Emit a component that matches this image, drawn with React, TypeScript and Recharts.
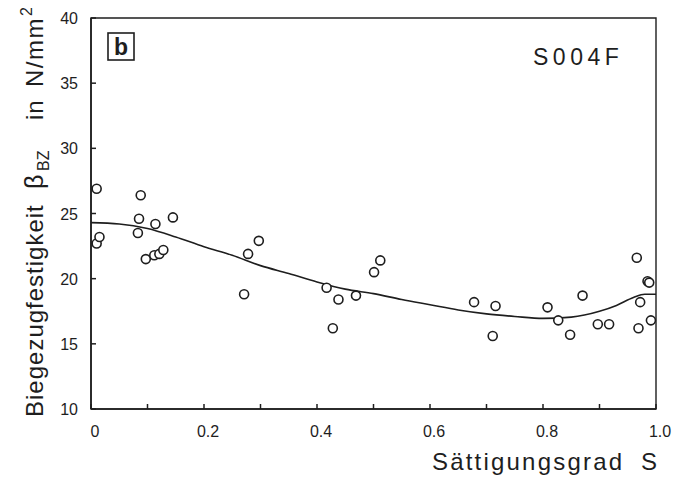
import React from 'react'
import {
  ComposedChart,
  Scatter,
  Line,
  XAxis,
  YAxis,
  ReferenceArea,
  Customized,
} from 'recharts'

// measured points (Sättigungsgrad S, β_BZ in N/mm²)
const sVals = [
  0.01, 0.01, 0.015, 0.083, 0.085, 0.088, 0.097, 0.112, 0.114, 0.121, 0.128,
  0.145, 0.271, 0.278, 0.297, 0.417, 0.428, 0.438, 0.469, 0.501, 0.512, 0.678,
  0.711, 0.716, 0.808, 0.827, 0.848, 0.87, 0.897, 0.917, 0.966, 0.969, 0.972,
  0.985, 0.988, 0.991,
]
const bzVals = [
  26.9, 22.7, 23.2, 23.5, 24.6, 26.4, 21.5, 21.8, 24.2, 21.9, 22.2, 24.7, 18.8,
  21.9, 22.9, 19.3, 16.2, 18.4, 18.7, 20.5, 21.4, 18.2, 15.6, 17.9, 17.8, 16.8,
  15.7, 18.7, 16.5, 16.5, 21.6, 16.2, 18.2, 19.8, 19.7, 16.8,
]

// fitted curve
const curveS = [
  0, 0.05, 0.1, 0.15, 0.2, 0.25, 0.3, 0.35, 0.4, 0.45, 0.5, 0.55, 0.6, 0.65,
  0.7, 0.75, 0.8, 0.85, 0.9, 0.93, 0.96, 0.98, 1.0,
]
const curveBz = [
  24.3, 24.2, 23.85, 23.2, 22.45, 21.8, 21.0, 20.4, 19.75, 19.2, 18.85, 18.4,
  18.0, 17.6, 17.3, 17.1, 16.95, 17.05, 17.5, 17.95, 18.55, 18.8, 18.8,
]

const xTicks = [0, 0.1, 0.2, 0.3, 0.4, 0.5, 0.6, 0.7, 0.8, 0.9, 1.0]
const yTicks = [10, 15, 20, 25, 30, 35, 40]

const points = sVals.map((s, i) => ({ s, v: bzVals[i] }))
const curve = curveS.map((s, i) => ({ s, v: curveBz[i] }))

const INK = '#1e1e1e'
const FONT = '"Liberation Sans", Arial, sans-serif'

function XTick({ x, y, payload }: any) {
  const v = payload.value
  const showLabel = Math.round(v * 10) % 2 === 0
  const label = v === 1 ? '1.0' : v === 0 ? '0' : String(v)
  return (
    <g>
      <line x1={x} y1={y} x2={x} y2={y - 5} stroke={INK} strokeWidth={1.5} />
      {showLabel && (
        <text
          x={x + 4}
          y={y + 28}
          textAnchor="middle"
          fontSize={16}
          fontFamily={FONT}
          fill={INK}
        >
          {label}
        </text>
      )}
    </g>
  )
}

function YTick({ x, y, payload }: any) {
  return (
    <g>
      <line x1={x} y1={y} x2={x + 5} y2={y} stroke={INK} strokeWidth={1.5} />
      <text
        x={x - 13}
        y={y + 6}
        textAnchor="end"
        fontSize={16}
        fontFamily={FONT}
        fill={INK}
      >
        {payload.value}
      </text>
    </g>
  )
}

function Circle({ cx, cy }: any) {
  return (
    <circle cx={cx} cy={cy} r={4.5} fill="white" stroke={INK} strokeWidth={1.6} />
  )
}

function Annotations() {
  return (
    <g fontFamily={FONT} fill={INK}>
      <rect x={108} y={33} width={26} height={27} fill="none" stroke={INK} strokeWidth={1.6} />
      <text x={121} y={55} textAnchor="middle" fontSize={23} fontWeight="bold">
        b
      </text>
      <text x={533} y={65} fontSize={23} letterSpacing={4.5}>
        S004F
      </text>
      <text x={432} y={470} fontSize={24} letterSpacing={2.2}>
        Sättigungsgrad
      </text>
      <text x={641} y={470} fontSize={24}>
        S
      </text>
      <g transform="translate(43, 417) rotate(-90)">
        <text x={0} y={0} fontSize={24} letterSpacing={1}>
          Biegezugfestigkeit
        </text>
        <text x={228} y={0} fontSize={25}>
          β
        </text>
        <text x={246} y={6} fontSize={16}>
          BZ
        </text>
        <text x={297} y={0} fontSize={24} letterSpacing={1}>
          in
        </text>
        <text x={330} y={0} fontSize={24} letterSpacing={1.5}>
          N/mm
        </text>
        <text x={401} y={-11} fontSize={16}>
          2
        </text>
      </g>
    </g>
  )
}

export default function App() {
  return (
    <div style={{ position: 'absolute', left: 0, top: 0, background: 'white' }}>
      <ComposedChart
        width={688}
        height={485}
        margin={{ top: 18, right: 32, bottom: 0, left: 0 }}
      >
        <XAxis
          dataKey="s"
          type="number"
          domain={[0, 1]}
          ticks={xTicks}
          height={76}
          tickSize={0}
          tickMargin={0}
          tick={<XTick />}
          axisLine={{ stroke: INK, strokeWidth: 1.6 }}
          tickLine={false}
        />
        <YAxis
          dataKey="v"
          type="number"
          domain={[10, 40]}
          ticks={yTicks}
          width={91}
          tickSize={0}
          tickMargin={0}
          tick={<YTick />}
          axisLine={{ stroke: INK, strokeWidth: 1.6 }}
          tickLine={false}
        />
        <ReferenceArea
          x1={0}
          x2={1}
          y1={10}
          y2={40}
          fill="none"
          stroke={INK}
          strokeWidth={1.4}
          ifOverflow="visible"
        />
        <Line
          data={curve}
          dataKey="v"
          type="monotone"
          stroke={INK}
          strokeWidth={1.6}
          dot={false}
          isAnimationActive={false}
        />
        <Scatter
          data={points}
          dataKey="v"
          shape={<Circle />}
          isAnimationActive={false}
        />
        <Customized component={Annotations} />
      </ComposedChart>
    </div>
  )
}
